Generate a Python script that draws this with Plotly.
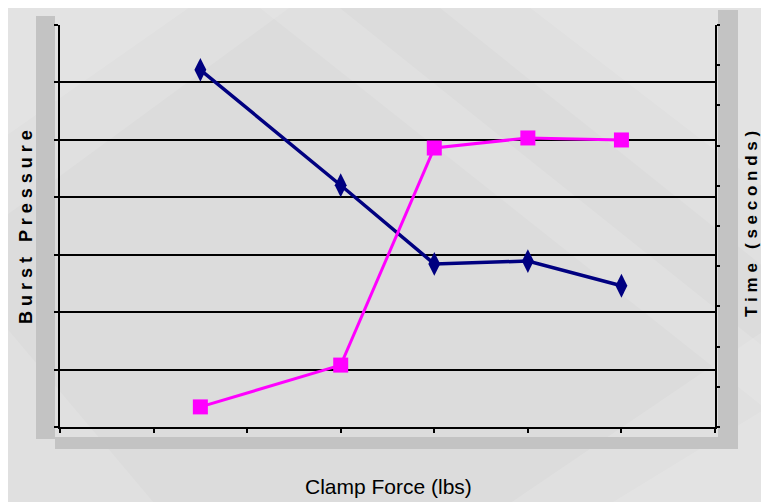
import plotly.graph_objects as go

# ---- data ----
clamp_force = [150, 300, 400, 500, 600]          # lbs (x)
burst_pressure = [62.2, 42.1, 28.4, 28.9, 24.6]  # left axis
time_seconds = [0.50, 1.54, 6.94, 7.19, 7.14]    # right axis

W, H = 769, 502
OFF = 8  # page body margin offset
# plot area in screen pixels
PL, PR, PT, PB = 60, 715, 25, 427
PW, PH = PR - PL, PB - PT
ML, MT = PL - OFF, PT - OFF
MR, MB = W - ML - PW, H - MT - PH


def px(x):
    return (x - PL) / PW


def py(y):
    return (PB - y) / PH


fig = go.Figure()
fig.add_trace(go.Scatter(
    x=clamp_force, y=burst_pressure, mode="lines+markers",
    line=dict(color="#000080", width=3.5),
    marker=dict(symbol="diamond-tall", size=17, color="#000080"),
    yaxis="y", showlegend=False))
fig.add_trace(go.Scatter(
    x=clamp_force, y=time_seconds, mode="lines+markers",
    line=dict(color="#ff00ff", width=3),
    marker=dict(symbol="square", size=15, color="#ff00ff"),
    yaxis="y2", showlegend=False))

shapes = []
# soft diagonal light streaks in the background
streaks = [
    [(0, 0), (300, 0), (0, 220)],
    [(0, 0), (200, 0), (0, 140)],
    [(430, 0), (780, 0), (780, 280)],
    [(520, 0), (780, 0), (780, 200)],
    [(500, 510), (780, 320), (780, 510)],
    [(600, 510), (780, 400), (780, 510)],
    [(0, 320), (160, 510), (0, 510)],
    [(250, 0), (330, 0), (780, 360), (780, 420)],
]
for pts in streaks:
    path = "M " + " L ".join(f"{px(a):.4f},{py(b):.4f}" for a, b in pts) + " Z"
    shapes.append(dict(type="path", path=path, xref="paper", yref="paper",
                       fillcolor="rgba(255,255,255,0.12)", line=dict(width=0),
                       layer="below"))
# grey wall bars
for x0, x1, y0, y1 in [(36, 55, 16, 439), (718, 738, 10, 449), (55, 718, 437, 449)]:
    shapes.append(dict(type="rect", xref="paper", yref="paper",
                       x0=px(x0), x1=px(x1), y0=py(y1), y1=py(y0),
                       fillcolor="#c3c3c3", line=dict(width=0), layer="below"))

tfont = dict(size=18, color="black", family="Liberation Sans, Arial")
annotations = [
    dict(text="<b>B u r s t   P r e s s u r e</b>", x=px(26), y=py(227),
         xanchor="center", yanchor="middle",
         xref="paper", yref="paper", textangle=-90, showarrow=False, font=tfont),
    dict(text="<b>T i m e   ( s e c o n d s )</b>", x=px(751), y=py(224),
         xanchor="center", yanchor="middle",
         xref="paper", yref="paper", textangle=-90, showarrow=False,
         font=dict(size=17, color="black", family="Liberation Sans, Arial")),
    dict(text="Clamp Force (lbs)", x=px(388), y=py(486), xref="paper", yref="paper",
         xanchor="center", yanchor="middle",
         showarrow=False, font=dict(size=21, color="black",
                                    family="Liberation Sans, Arial")),
]

fig.update_layout(
    width=W, height=H,
    margin=dict(l=ML, r=MR, t=MT, b=MB),
    paper_bgcolor="#dcdcdc",
    plot_bgcolor="rgba(0,0,0,0)",
    shapes=shapes,
    annotations=annotations,
    xaxis=dict(range=[0, 700], dtick=100, tick0=0, showgrid=False, zeroline=False,
               showline=True, linecolor="black", linewidth=2,
               ticks="outside", ticklen=4, tickcolor="black", tickwidth=1.5,
               showticklabels=False),
    yaxis=dict(range=[0, 70], dtick=10, tick0=0, showgrid=True, gridcolor="black",
               gridwidth=1.5, zeroline=False, showline=True, linecolor="black",
               linewidth=2, ticks="outside", ticklen=4, tickcolor="black",
               tickwidth=1.5, showticklabels=False),
    yaxis2=dict(range=[0, 10], dtick=1, tick0=0, overlaying="y", side="right",
                showgrid=False, zeroline=False, showline=True, linecolor="black",
                linewidth=2, ticks="outside", ticklen=3, tickcolor="black",
                tickwidth=1.5, showticklabels=False),
)

fig.write_html("out.html")
